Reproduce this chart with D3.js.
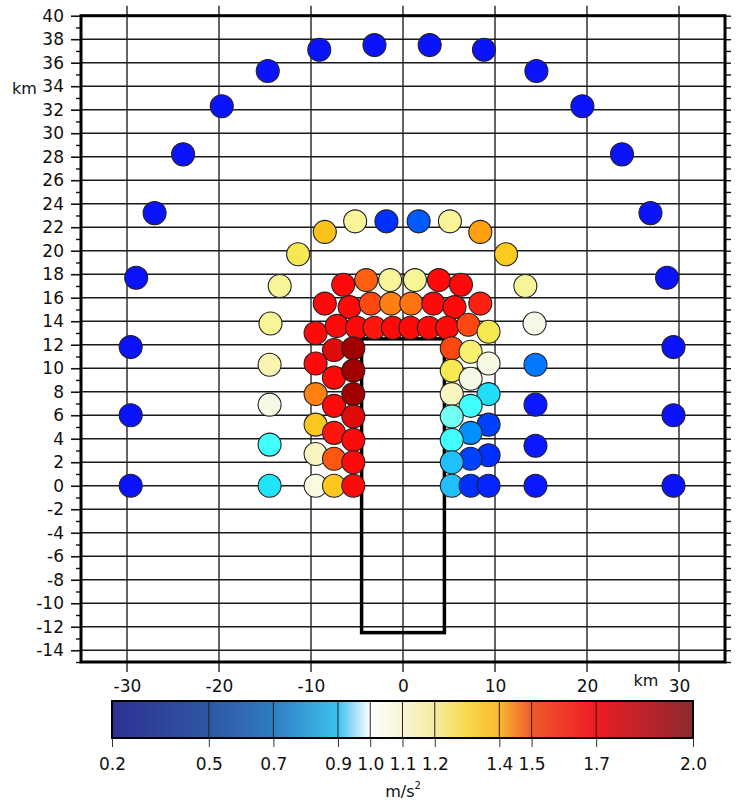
<!DOCTYPE html>
<html>
<head>
<meta charset="utf-8">
<script src="https://cdn.jsdelivr.net/npm/d3@7"></script>
<style>
  body { margin: 0; background: #fff; }
  text { font-family: "DejaVu Sans", sans-serif; fill: #111; }
</style>
</head>
<body>
<svg id="chart" width="736" height="805"></svg>
<script>
// Station positions (km) and peak ground acceleration (m/s²)
const outerX = [-29.6, -29.6, -29.6, -29.0, -27.0, -23.9, -19.7, -14.7, -9.1, -3.1,
                 2.9, 8.8, 14.5, 19.5, 23.8, 26.9, 28.7, 29.4, 29.4, 29.4];
const outerY = [0, 6.0, 11.8, 17.7, 23.2, 28.2, 32.3, 35.3, 37.1, 37.5,
                37.5, 37.1, 35.3, 32.3, 28.2, 23.2, 17.7, 11.8, 6.0, 0];
const outerV = [0.3, 0.3, 0.3, 0.3, 0.3, 0.3, 0.3, 0.3, 0.3, 0.3,
                0.3, 0.3, 0.3, 0.3, 0.3, 0.3, 0.3, 0.3, 0.3, 0.3];

const midX = [-14.5, -14.5, -14.5, -14.5, -14.4, -13.4, -11.4, -8.5, -5.2, -1.8,
               1.7, 5.1, 8.4, 11.2, 13.3, 14.3, 14.4, 14.4, 14.4, 14.4];
const midY = [0, 3.5, 6.9, 10.3, 13.8, 17.0, 19.7, 21.6, 22.5, 22.5,
              22.5, 22.5, 21.6, 19.7, 17.0, 13.8, 10.3, 6.9, 3.4, 0];
const midV = [0.86, 0.9, 1.03, 1.12, 1.15, 1.15, 1.25, 1.35, 1.15, 0.45,
              0.58, 1.15, 1.4, 1.32, 1.15, 1.02, 0.65, 0.35, 0.35, 0.35];

const innerX = [-6.5, -4.0, -1.4, 1.3, 3.9, 6.3,
                -8.5, -5.8, -3.5, -1.3, 0.9, 3.3, 5.6, 8.4,
                -9.5, -7.2, -5.0, -3.1, -1.1, 0.8, 2.8, 4.8, 7.1, 9.3,
                -7.5, -5.4, -9.5, -7.5, -5.4, -9.5, -7.5, -5.4, -9.5, -7.5, -5.4, -5.4,
                -9.5, -7.5, -5.4, -9.5, -7.5, -5.4,
                5.3, 7.35, 9.3, 5.3, 7.35, 9.3, 5.3, 7.35, 5.3, 9.3, 7.35, 5.3,
                9.3, 7.35, 5.3, 5.3, 7.35, 9.3];
const innerY = [17.1, 17.5, 17.5, 17.5, 17.5, 17.1,
                15.5, 15.2, 15.5, 15.5, 15.5, 15.5, 15.2, 15.5,
                13.0, 13.6, 13.45, 13.45, 13.45, 13.45, 13.45, 13.45, 13.7, 13.1,
                11.55, 11.7, 10.4, 9.2, 9.8, 7.8, 6.8, 7.8, 5.2, 4.5, 5.9, 3.9,
                2.7, 2.3, 2.0, 0, 0, 0,
                11.7, 11.4, 10.4, 9.8, 9.1, 7.8, 7.8, 6.8, 5.9, 5.2, 4.5, 3.9,
                2.6, 2.3, 2.0, 0, 0, 0];
const innerV = [1.65, 1.5, 1.15, 1.15, 1.65, 1.65,
                1.65, 1.65, 1.55, 1.45, 1.47, 1.65, 1.65, 1.6,
                1.65, 1.65, 1.65, 1.62, 1.65, 1.65, 1.65, 1.65, 1.55, 1.25,
                1.8, 1.95, 1.65, 1.65, 1.95, 1.45, 1.65, 1.95, 1.33, 1.62, 1.8, 1.65,
                1.1, 1.52, 1.65, 1.05, 1.33, 1.65,
                1.55, 1.2, 1.03, 1.25, 1.02, 0.85, 1.1, 0.9, 0.95, 0.5, 0.7, 0.9,
                0.45, 0.5, 0.8, 0.8, 0.45, 0.4];

// Source fault outline (km)
const faultX = [-4.5, 4.5];
const faultY = [-12.5, 12.5];

// Axis ticks
const yMajor = d3.range(-14, 41, 2);
const yMinor = d3.range(-15, 40, 2);
const yRight = d3.range(-15, 41, 1);
const xMajor = [-30, -20, -10, 0, 10, 20, 30];

// Colour legend
const legendTicks = [0.2, 0.5, 0.7, 0.9, 1.0, 1.1, 1.2, 1.4, 1.5, 1.7, 2.0];
const legendStops = [0.2, 0.5, 0.7, 0.9, 1.0, 1.1, 1.2, 1.3, 1.4, 1.5, 1.7, 2.0];
const legendColors = ["#2e3192", "#2e56a3", "#2f7cc0", "#3ec1ee", "#ffffff", "#f8f4d6",
                      "#f5eca0", "#fad94a", "#fbb731", "#ef5a2b", "#ed1c24", "#8c2a30"];

// Marker palette
const markerStops = [0.2, 0.35, 0.45, 0.5, 0.6, 0.7, 0.8, 0.86, 0.9, 0.95, 1.0, 1.05, 1.1,
                     1.15, 1.2, 1.25, 1.3, 1.35, 1.4, 1.45, 1.5, 1.55, 1.6, 1.65, 1.8, 1.95];
const markerColors = ["#0a0af0", "#0a18ff", "#0030ff", "#0040ff", "#0060ff", "#0090ff",
                      "#20c0ff", "#20e4f8", "#40ffff", "#70fff0", "#f5f8ea", "#fafae0",
                      "#f8f5c0", "#f8f598", "#f8f070", "#f5e850", "#ffd020", "#fbc11c",
                      "#ffa010", "#ff8010", "#ff6010", "#ff4810", "#ff2010", "#ff0a0a",
                      "#e00a0a", "#a00000"];

const svg = d3.select("#chart");
const x = d3.scaleLinear().domain([-35, 35]).range([81, 725]);
const y = d3.scaleLinear().domain([-15, 40]).range([662, 15.7]);
const markerColor = d3.scaleLinear().domain(markerStops).range(markerColors).clamp(true);
const intLabel = d => String(d);

const plot = svg.append("g");

// Horizontal grid
plot.append("g").selectAll("line")
  .data(yMajor.filter(d => d > -15 && d < 40))
  .join("line")
  .attr("x1", x(-35)).attr("x2", x(35))
  .attr("y1", d => y(d)).attr("y2", d => y(d))
  .attr("stroke", "#1a1a1a").attr("stroke-width", 1.6);

// Vertical grid, running past the frame top and bottom
plot.append("g").selectAll("line")
  .data(xMajor)
  .join("line")
  .attr("x1", d => x(d)).attr("x2", d => x(d))
  .attr("y1", y(40) - 10).attr("y2", y(-15) + 10)
  .attr("stroke", "#111").attr("stroke-width", 1.3);

// Left axis: labelled even ticks plus short odd ticks
const leftAxis = plot.append("g").attr("transform", `translate(${x(-35)},0)`)
  .call(d3.axisLeft(y).tickValues(yMajor).tickSize(10).tickPadding(7).tickFormat(intLabel));
leftAxis.select(".domain").remove();
leftAxis.selectAll("line").attr("stroke", "#111").attr("stroke-width", 1.6);
leftAxis.selectAll("text").style("font-size", "17px").attr("fill", "#111");

const leftMinor = plot.append("g").attr("transform", `translate(${x(-35)},0)`)
  .call(d3.axisLeft(y).tickValues(yMinor).tickSize(5).tickFormat(""));
leftMinor.select(".domain").remove();
leftMinor.selectAll("line").attr("stroke", "#111").attr("stroke-width", 1.4);

// Right axis: ticks every km
const rightAxis = plot.append("g").attr("transform", `translate(${x(35)},0)`)
  .call(d3.axisRight(y).tickValues(yRight).tickSize(6).tickFormat(""));
rightAxis.select(".domain").remove();
rightAxis.selectAll("line").attr("stroke", "#111").attr("stroke-width", 1.4);

// Bottom axis labels
const bottomAxis = plot.append("g").attr("transform", `translate(0,${y(-15)})`)
  .call(d3.axisBottom(x).tickValues(xMajor).tickSize(10).tickPadding(8).tickFormat(intLabel));
bottomAxis.select(".domain").remove();
bottomAxis.selectAll("line").remove();
bottomAxis.selectAll("text").style("font-size", "17px").attr("fill", "#111");

// Axis units
svg.append("text").attr("x", 12).attr("y", 94).style("font-size", "16px").text("km");
svg.append("text").attr("x", 646).attr("y", 686).attr("text-anchor", "middle")
  .style("font-size", "16px").text("km");

// Frame
plot.append("rect")
  .attr("x", x(-35)).attr("y", y(40))
  .attr("width", x(35) - x(-35)).attr("height", y(-15) - y(40))
  .attr("fill", "none").attr("stroke", "#000").attr("stroke-width", 3);

// Fault outline
plot.append("rect")
  .attr("x", x(faultX[0])).attr("y", y(faultY[1]))
  .attr("width", x(faultX[1]) - x(faultX[0]))
  .attr("height", y(faultY[0]) - y(faultY[1]))
  .attr("fill", "none").attr("stroke", "#000").attr("stroke-width", 3.5);

// Stations
const stations = [];
[[outerX, outerY, outerV], [midX, midY, midV], [innerX, innerY, innerV]].forEach(([xs, ys, vs]) => {
  xs.forEach((v, i) => stations.push({ x: v, y: ys[i], v: vs[i] }));
});
plot.append("g").selectAll("circle")
  .data(stations)
  .join("circle")
  .attr("cx", d => x(d.x)).attr("cy", d => y(d.y)).attr("r", 11.5)
  .attr("fill", d => markerColor(d.v))
  .attr("stroke", "#222").attr("stroke-width", 1.1);

// Colour bar
const cb = d3.scaleLinear().domain([0.2, 2.0]).range([112, 693]);
const barTop = 701, barH = 37;
const defs = svg.append("defs");
const grad = defs.append("linearGradient").attr("id", "pgaGrad")
  .attr("x1", "0%").attr("x2", "100%").attr("y1", "0%").attr("y2", "0%");
grad.selectAll("stop").data(legendStops).join("stop")
  .attr("offset", d => ((d - 0.2) / 1.8 * 100) + "%")
  .attr("stop-color", (d, i) => legendColors[i]);

const legend = svg.append("g");
legend.append("rect").attr("x", cb(0.2)).attr("y", barTop)
  .attr("width", cb(2.0) - cb(0.2)).attr("height", barH).attr("fill", "url(#pgaGrad)");
legend.append("g").selectAll("line")
  .data(legendTicks.slice(1, -1))
  .join("line")
  .attr("x1", d => cb(d)).attr("x2", d => cb(d))
  .attr("y1", barTop).attr("y2", barTop + barH)
  .attr("stroke", "#222").attr("stroke-width", 1);
legend.append("rect").attr("x", cb(0.2)).attr("y", barTop)
  .attr("width", cb(2.0) - cb(0.2)).attr("height", barH)
  .attr("fill", "none").attr("stroke", "#000").attr("stroke-width", 2);

const legendAxis = legend.append("g").attr("transform", `translate(0,${barTop + barH})`)
  .call(d3.axisBottom(cb).tickValues(legendTicks).tickSize(9).tickPadding(11).tickFormat(d3.format(".1f")));
legendAxis.select(".domain").remove();
legendAxis.selectAll("line").attr("stroke", "#333").attr("stroke-width", 1);
legendAxis.selectAll("text").style("font-size", "17px").attr("fill", "#111");

// Unit label with the squared exponent
const unit = svg.append("text").attr("x", 403).attr("y", 797).attr("text-anchor", "middle")
  .style("font-size", "16px");
unit.append("tspan").text("m/s");
unit.append("tspan").attr("dy", -8).style("font-size", "10px").text("2");
</script>
</body>
</html>
